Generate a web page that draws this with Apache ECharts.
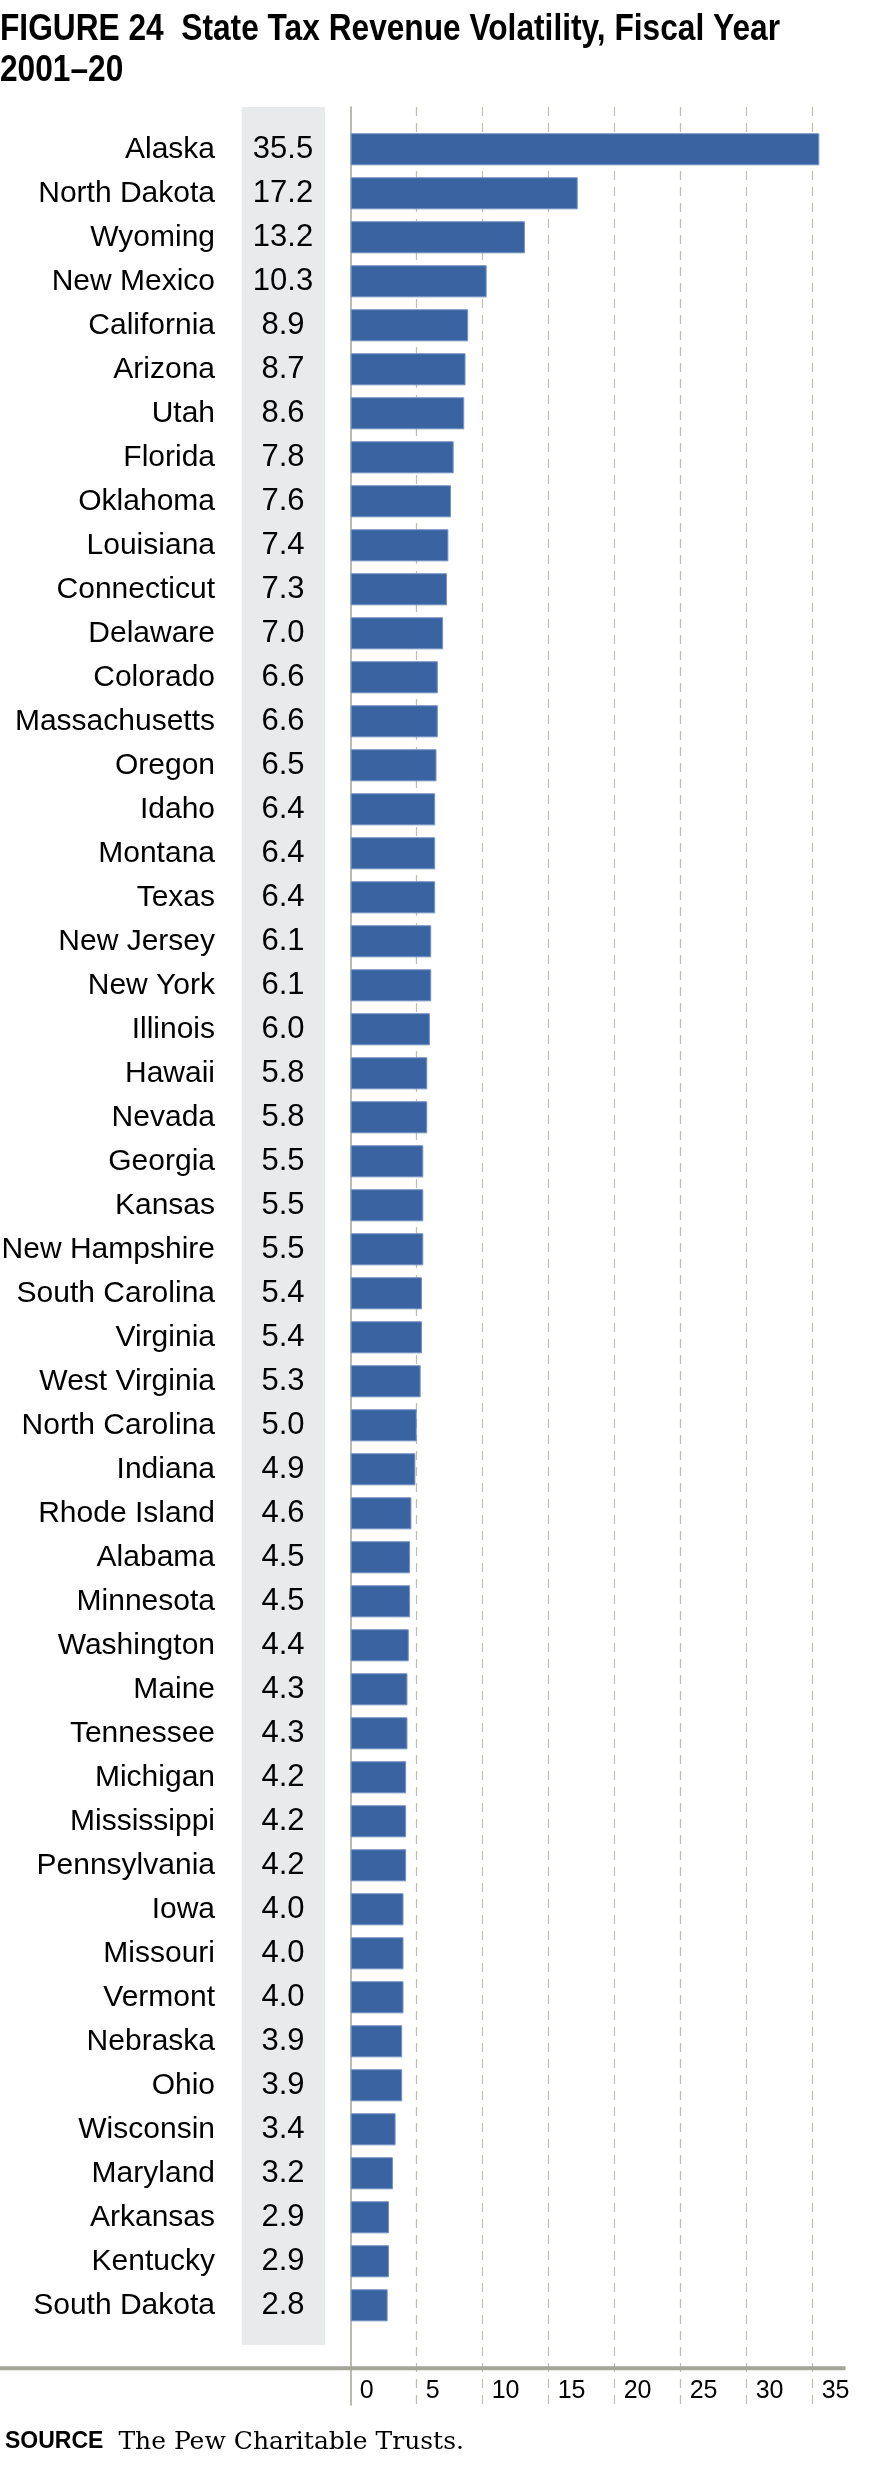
<!DOCTYPE html>
<html>
<head>
<meta charset="utf-8">
<script src="https://cdn.jsdelivr.net/npm/echarts@6/dist/echarts.min.js"></script>
<style>
  html, body { margin: 0; padding: 0; background: #ffffff; }
  #chart { width: 875px; height: 2475px; }
</style>
</head>
<body>
<div id="chart"></div>
<script>
const titleText = 'FIGURE 24  State Tax Revenue Volatility, Fiscal Year\n2001\u201320';
const sourceLabel = 'SOURCE';
const sourceText = 'The Pew Charitable Trusts.';

const states = ['Alaska','North Dakota','Wyoming','New Mexico','California','Arizona','Utah','Florida','Oklahoma','Louisiana',
  'Connecticut','Delaware','Colorado','Massachusetts','Oregon','Idaho','Montana','Texas','New Jersey','New York',
  'Illinois','Hawaii','Nevada','Georgia','Kansas','New Hampshire','South Carolina','Virginia','West Virginia','North Carolina',
  'Indiana','Rhode Island','Alabama','Minnesota','Washington','Maine','Tennessee','Michigan','Mississippi','Pennsylvania',
  'Iowa','Missouri','Vermont','Nebraska','Ohio','Wisconsin','Maryland','Arkansas','Kentucky','South Dakota'];

const values = [35.5,17.2,13.2,10.3,8.9,8.7,8.6,7.8,7.6,7.4,
  7.3,7.0,6.6,6.6,6.5,6.4,6.4,6.4,6.1,6.1,
  6.0,5.8,5.8,5.5,5.5,5.5,5.4,5.4,5.3,5.0,
  4.9,4.6,4.5,4.5,4.4,4.3,4.3,4.2,4.2,4.2,
  4.0,4.0,4.0,3.9,3.9,3.4,3.2,2.9,2.9,2.8];

const axisMin = 0;
const axisMax = 35;
const axisInterval = 5;

const valueLabels = values.map(v => v.toFixed(1));

const chart = echarts.init(document.getElementById('chart'), null, { renderer: 'canvas' });

const LEFT = 350.7, RIGHT = 62.3;
const sansFont = '"Liberation Sans", Arial, sans-serif';

chart.setOption({
  animation: false,
  backgroundColor: '#ffffff',
  title: [
    {
      text: '{b|' + sourceLabel + '}{s|' + sourceText + '}',
      left: 0,
      top: 2422,
      textStyle: {
        rich: {
          b: { fontFamily: sansFont, fontWeight: 'bold', fontSize: 23, color: '#000', padding: [0, 15, 0, 0], lineHeight: 30 },
          s: { fontFamily: '"DejaVu Serif", "Liberation Serif", serif', fontWeight: 'normal', fontSize: 25, color: '#000', lineHeight: 30 }
        }
      }
    }
  ],
  graphic: [
    {
      type: 'text', z: 100, silent: true,
      x: 0, y: 9, scaleX: 0.88, originX: 0, originY: 0,
      style: {
        text: titleText,
        fontFamily: sansFont, fontWeight: 'bold', fontSize: 36, lineHeight: 41.5,
        fill: '#000000'
      }
    },
    {
      type: 'rect', z: -10, silent: true,
      shape: { x: 241.7, y: 107, width: 83.3, height: 2238 },
      style: { fill: '#e9eaec' }
    },
    {
      type: 'rect', z: 100, silent: true,
      shape: { x: 0, y: 2366.3, width: 845.5, height: 4 },
      style: { fill: '#a5a599' }
    }
  ],
  grid: [
    { left: LEFT, right: RIGHT, top: 127.3, height: 2200, outerBoundsMode: 'none' },
    { left: LEFT, right: RIGHT, top: 107, bottom: 70, outerBoundsMode: 'none' }
  ],
  xAxis: [
    { gridIndex: 0, type: 'value', min: axisMin, max: axisMax, interval: axisInterval, show: false },
    {
      gridIndex: 1, type: 'value', min: axisMin, max: axisMax, interval: axisInterval, position: 'bottom',
      axisLine: { show: false },
      axisTick: { show: false },
      splitLine: { show: true, showMinLine: false, showMaxLine: true, lineStyle: { color: '#bdbdb2', width: 1.2, type: [9, 7] } },
      axisLabel: {
        inside: true, margin: 1, align: 'left', padding: [0, 0, 0, 9],
        fontFamily: sansFont, fontSize: 25, color: '#000'
      }
    }
  ],
  yAxis: [
    {
      gridIndex: 0, type: 'category', data: states, inverse: true, position: 'left',
      axisLine: { show: false }, axisTick: { show: false }, splitLine: { show: false },
      axisLabel: { margin: 135.7, fontFamily: sansFont, fontSize: 30, color: '#000' }
    },
    {
      gridIndex: 0, type: 'category', data: valueLabels, inverse: true, position: 'left',
      axisLine: { show: false }, axisTick: { show: false }, splitLine: { show: false },
      axisLabel: { margin: 67.7, align: 'center', fontFamily: sansFont, fontSize: 31, color: '#000' }
    },
    {
      gridIndex: 1, type: 'value', min: 0, max: 1, position: 'left',
      axisLine: { show: true, lineStyle: { color: '#a3a398', width: 1.5 } },
      axisTick: { show: false }, axisLabel: { show: false }, splitLine: { show: false }
    }
  ],
  series: [
    {
      type: 'bar',
      xAxisIndex: 0, yAxisIndex: 0,
      data: values,
      barCategoryGap: '27%',
      clip: false,
      itemStyle: { color: '#3a64a1', borderColor: '#7692c2', borderWidth: 1 },
      label: { show: false }
    }
  ]
});
</script>
</body>
</html>
